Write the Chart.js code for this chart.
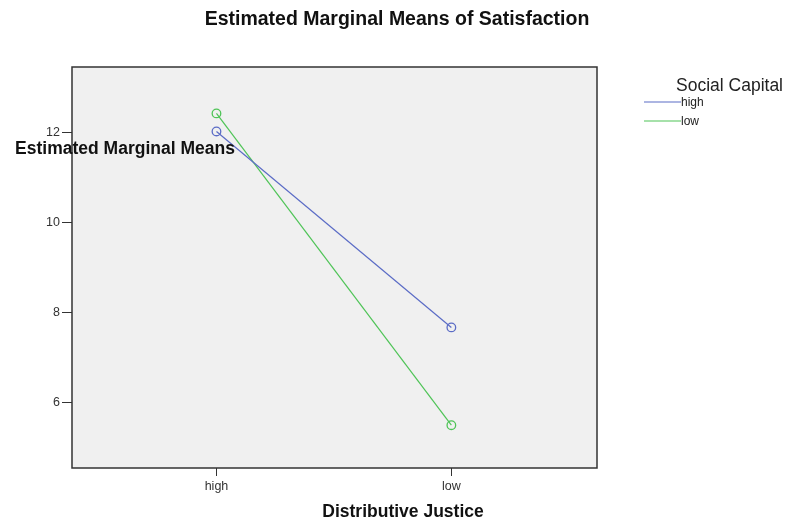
<!DOCTYPE html>
<html>
<head>
<meta charset="utf-8">
<script src="https://cdn.jsdelivr.net/npm/chart.js@4/dist/chart.umd.min.js"></script>
<style>
  html, body { margin: 0; padding: 0; background: #fff; }
  #wrap { width: 785px; height: 521px; position: relative; }
</style>
</head>
<body>
<div id="wrap"><canvas id="chart"></canvas></div>
<script>
// data
const categories = ['high', 'low'];          // Distributive Justice
const seriesNames = ['high', 'low'];         // Social Capital
const highValues = [12.02, 7.67];
const lowValues = [12.42, 5.50];
const yTicks = [6, 8, 10, 12];

const colors = ['#5b6cc6', '#4fc457'];
const FONT = '"Liberation Sans", Arial, sans-serif';

// frame, background, titles and legend, SPSS style
const decorations = {
    id: 'decorations',
    beforeDraw(chart) {
        const { ctx, chartArea: a } = chart;
        ctx.save();
        ctx.fillStyle = '#f0f0f0';
        ctx.fillRect(a.left, a.top, a.right - a.left, a.bottom - a.top);
        ctx.restore();
    },
    afterDraw(chart) {
        const { ctx, chartArea: a } = chart;
        ctx.save();
        ctx.strokeStyle = '#333';
        ctx.lineWidth = 1.5;
        ctx.strokeRect(a.left, a.top, a.right - a.left, a.bottom - a.top);

        ctx.fillStyle = '#111';
        ctx.textAlign = 'center';
        ctx.textBaseline = 'middle';
        ctx.font = 'bold 19.5px ' + FONT;
        ctx.fillText('Estimated Marginal Means of Satisfaction', 397, 20);
        ctx.font = 'bold 17.5px ' + FONT;
        ctx.fillText('Distributive Justice', 403, 512);
        ctx.fillText('Estimated Marginal Means', 125, 149);

        // legend
        ctx.font = '17.5px ' + FONT;
        ctx.textAlign = 'left';
        ctx.fillStyle = '#222';
        ctx.fillText('Social Capital', 676, 86);
        ctx.font = '12px ' + FONT;
        chart.data.datasets.forEach((ds, i) => {
            const y = 102 + i * 19;
            ctx.strokeStyle = ds.borderColor;
            ctx.lineWidth = 1.2;
            ctx.beginPath();
            ctx.moveTo(644, y);
            ctx.lineTo(681, y);
            ctx.stroke();
            ctx.fillStyle = '#222';
            ctx.fillText(ds.label, 681, y + 1);
        });
        ctx.restore();
    }
};

const toPoints = vals => vals.map((v, i) => ({ x: i, y: v }));

new Chart(document.getElementById('chart'), {
    type: 'line',
    data: {
        datasets: [highValues, lowValues].map((vals, i) => ({
            label: seriesNames[i],
            data: toPoints(vals),
            borderColor: colors[i],
            backgroundColor: 'transparent',
            borderWidth: 1.2,
            pointRadius: 4.3,
            pointBorderWidth: 1.3,
            pointBackgroundColor: 'transparent',
            pointBorderColor: colors[i],
            tension: 0
        }))
    },
    options: {
        responsive: true,
        maintainAspectRatio: false,
        animation: false,
        layout: { padding: { top: 67, right: 188, left: 0, bottom: 0 } },
        plugins: {
            legend: { display: false },
            tooltip: { enabled: false }
        },
        scales: {
            x: {
                type: 'linear',
                min: -0.615,
                max: 1.62,
                afterBuildTicks: s => { s.ticks = categories.map((c, i) => ({ value: i })); },
                afterFit: s => { s.height = 53; },
                grid: { drawOnChartArea: false, drawTicks: true, tickLength: 8, color: '#333', tickWidth: 1 },
                border: { display: false },
                ticks: {
                    padding: 3,
                    color: '#333',
                    font: { family: FONT, size: 12.5 },
                    callback: v => categories[v] ?? ''
                }
            },
            y: {
                min: 4.55,
                max: 13.45,
                afterBuildTicks: s => { s.ticks = yTicks.map(v => ({ value: v })); },
                afterFit: s => { s.width = 72; },
                grid: { drawOnChartArea: false, drawTicks: true, tickLength: 10, color: '#333', tickWidth: 1 },
                border: { display: false },
                ticks: {
                    padding: 2,
                    color: '#333',
                    font: { family: FONT, size: 12.5 }
                }
            }
        }
    },
    plugins: [decorations]
});
</script>
</body>
</html>
